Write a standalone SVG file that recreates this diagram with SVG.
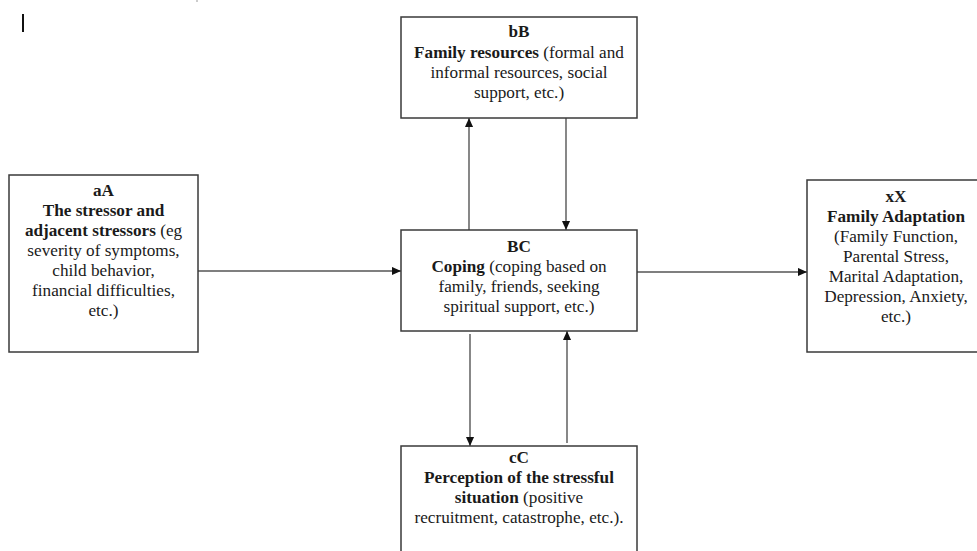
<svg xmlns="http://www.w3.org/2000/svg" width="977" height="551" viewBox="0 0 977 551">
<style>
.box{fill:#fff;stroke:#3a3a3a;stroke-width:1.5}
.t{font-family:"Liberation Serif","Times New Roman",serif;font-size:17.2px;fill:#1a1a1a;text-anchor:middle}
.b{font-weight:bold}
.c{stroke:#555;stroke-width:1.4;fill:none;marker-end:url(#ah)}
</style>
<defs>
<marker id="ah" viewBox="0 0 10 10" refX="10" refY="5" markerWidth="9" markerHeight="9" markerUnits="userSpaceOnUse" orient="auto">
<path d="M0,0.5 L10,5 L0,9.5 z" fill="#111"/>
</marker>
</defs>
<rect width="977" height="551" fill="#fff"/>
<line x1="23" y1="14" x2="23" y2="32" stroke="#111" stroke-width="2"/>
<line x1="197" y1="0" x2="197" y2="2" stroke="#999" stroke-width="1"/>
<g id="connectors">
<line class="c" x1="198" y1="271" x2="401" y2="271"/>
<line class="c" x1="637" y1="272" x2="807" y2="272"/>
<line class="c" x1="469" y1="230" x2="469" y2="118"/>
<line class="c" x1="566" y1="118" x2="566" y2="230"/>
<line class="c" x1="470" y1="334" x2="470" y2="446"/>
<line class="c" x1="567" y1="443" x2="567" y2="331"/>
</g>
<g id="nodeA">
<rect class="box" x="9" y="175" width="189" height="177"/>
<text class="t"><tspan class="b" x="103.5" y="196">aA</tspan><tspan class="b" x="103.5" y="216">The stressor and</tspan><tspan x="103.5" y="236"><tspan class="b">adjacent stressors</tspan> (eg</tspan><tspan x="103.5" y="256">severity of symptoms,</tspan><tspan x="103.5" y="276">child behavior,</tspan><tspan x="103.5" y="296">financial difficulties,</tspan><tspan x="103.5" y="316">etc.)</tspan></text>
</g>
<g id="nodeB">
<rect class="box" x="401" y="17" width="236" height="101"/>
<text class="t"><tspan class="b" x="519" y="37">bB</tspan><tspan x="519" y="58"><tspan class="b">Family resources</tspan> (formal and</tspan><tspan x="519" y="78">informal resources, social</tspan><tspan x="519" y="98">support, etc.)</tspan></text>
</g>
<g id="nodeBC">
<rect class="box" x="401" y="230" width="236" height="101"/>
<text class="t"><tspan class="b" x="519" y="252">BC</tspan><tspan x="519" y="272"><tspan class="b">Coping</tspan> (coping based on</tspan><tspan x="519" y="292">family, friends, seeking</tspan><tspan x="519" y="312">spiritual support, etc.)</tspan></text>
</g>
<g id="nodeC">
<rect class="box" x="401" y="446" width="236" height="110"/>
<text class="t"><tspan class="b" x="519" y="463">cC</tspan><tspan class="b" x="519" y="483">Perception of the stressful</tspan><tspan x="519" y="503"><tspan class="b">situation</tspan> (positive</tspan><tspan x="519" y="523">recruitment, catastrophe, etc.).</tspan></text>
</g>
<g id="nodeX">
<rect class="box" x="807" y="180" width="178" height="172"/>
<text class="t"><tspan class="b" x="896" y="202">xX</tspan><tspan class="b" x="896" y="222">Family Adaptation</tspan><tspan x="896" y="242">(Family Function,</tspan><tspan x="896" y="262">Parental Stress,</tspan><tspan x="896" y="282">Marital Adaptation,</tspan><tspan x="896" y="302">Depression, Anxiety,</tspan><tspan x="896" y="322">etc.)</tspan></text>
</g>
</svg>
